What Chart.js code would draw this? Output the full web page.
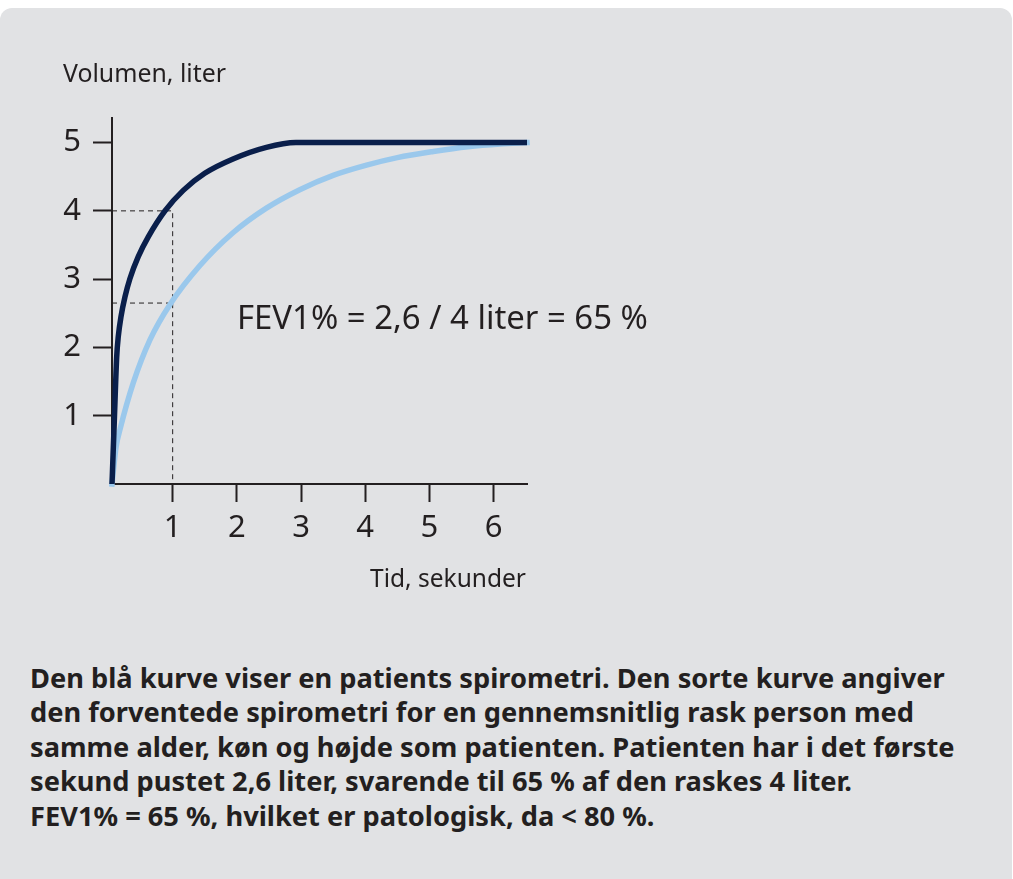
<!DOCTYPE html>
<html>
<head>
<meta charset="utf-8">
<script src="https://cdn.jsdelivr.net/npm/chart.js@4.4.1/dist/chart.umd.min.js"></script>
<style>
  html, body { margin: 0; padding: 0; background: #ffffff; width: 1013px; height: 879px; overflow: hidden; }
  #panel { position: absolute; left: 0; top: 8px; width: 1012px; height: 890px; background: #e1e2e4; border-radius: 12px; }
  #chartWrap { position: absolute; left: 0; top: 0; width: 700px; height: 620px; }
  .txt { position: absolute; color: #231f20; font-family: "Noto Sans", sans-serif; white-space: nowrap; line-height: 1; }
  .fit { display: inline-block; }
  #ytitle { left: 63px; top: 60px; font-size: 22px; }
  #xtitle { left: 370px; top: 566px; font-size: 22px; }
  #annot { left: 237px; top: 301px; font-size: 29px; }
  #caption { left: 30px; top: 664px; font-size: 24px; font-weight: bold; }
  #caption div { height: 34.4px; }
</style>
</head>
<body>
<div id="panel"></div>
<div id="chartWrap"><canvas id="c" width="700" height="620"></canvas></div>
<div class="txt" id="ytitle"><span class="fit" data-w="163">Volumen, liter</span></div>
<div class="txt" id="xtitle"><span class="fit" data-w="156">Tid, sekunder</span></div>
<div class="txt" id="annot"><span class="fit" data-w="411">FEV1% = 2,6 / 4 liter = 65 %</span></div>
<div class="txt" id="caption" data-w="915">
  <div><span class="fitline">Den blå kurve viser en patients spirometri. Den sorte kurve angiver</span></div>
  <div><span>den forventede spirometri for en gennemsnitlig rask person med</span></div>
  <div><span>samme alder, køn og højde som patienten. Patienten har i det første</span></div>
  <div><span>sekund pustet 2,6 liter, svarende til 65 % af den raskes 4 liter.</span></div>
  <div><span>FEV1% = 65 %, hvilket er patologisk, da &lt; 80 %.</span></div>
</div>
<script>
// Time (seconds) and volume (liter)
const expectedTime   = [0.055, 0.09, 0.128, 0.153, 0.195, 0.257, 0.335, 0.464, 0.62, 0.88, 1.165, 1.5, 1.94, 2.46, 2.92, 6.52];
const expectedVolume = [0,     0.9,  1.86,  2.16,  2.45,  2.74,  3.01,  3.33,  3.62, 4.0,  4.30,  4.55, 4.76, 4.93, 5.0, 5.0];
const patientTime    = [0.055, 0.12, 0.18, 0.386, 0.646, 0.958, 1.425, 1.94, 2.46, 2.98, 3.5,  4.02, 4.5,  5.06, 5.6,  6.1,  6.52];
const patientVolume  = [0,     0.55, 0.80, 1.48,  2.11,  2.63,  3.2,   3.68, 4.04, 4.31, 4.52, 4.67, 4.78, 4.87, 4.94, 4.98, 5.0];
const fev1Time = 1;
const fev1Patient = 2.65;
const fev1Expected = 4;
const xTickLabels = [1, 2, 3, 4, 5, 6];
const yTickLabels = [1, 2, 3, 4, 5];
const xMin = 0.055, xMax = 6.52, yMin = 0, yMax = 5.36;

// fit text widths to the reference
document.querySelectorAll('.fit').forEach(el => {
  const target = +el.dataset.w;
  const parent = el.parentElement;
  const fs = parseFloat(getComputedStyle(parent).fontSize);
  const w = el.getBoundingClientRect().width;
  parent.style.fontSize = (fs * target / w).toFixed(2) + 'px';
});
(function () {
  const cap = document.getElementById('caption');
  const line = cap.querySelector('.fitline');
  const fs = parseFloat(getComputedStyle(cap).fontSize);
  const w = line.getBoundingClientRect().width;
  cap.style.fontSize = (fs * (+cap.dataset.w) / w).toFixed(2) + 'px';
})();

const pts = (xs, ys) => xs.map((x, i) => ({ x: x, y: ys[i] }));
const ink = '#231f20';
const font = { family: '"Noto Sans", sans-serif', size: 31 };

new Chart(document.getElementById('c'), {
  type: 'line',
  data: {
    datasets: [
      { data: pts(expectedTime, expectedVolume), borderColor: '#0a1f4b', borderWidth: 5.5, pointRadius: 0,
        cubicInterpolationMode: 'monotone', order: 0, clip: 8, borderCapStyle: 'butt', borderJoinStyle: 'round' },
      { data: pts(patientTime, patientVolume), borderColor: '#9ac8ec', borderWidth: 5.5, pointRadius: 0,
        cubicInterpolationMode: 'monotone', order: 1, clip: 8, borderCapStyle: 'square' },
      { data: [{ x: xMin, y: fev1Expected }, { x: fev1Time, y: fev1Expected }, { x: fev1Time, y: 0 }],
        borderColor: ink, borderWidth: 1, borderDash: [5, 4], pointRadius: 0, tension: 0, order: 2 },
      { data: [{ x: xMin, y: fev1Patient }, { x: fev1Time, y: fev1Patient }],
        borderColor: ink, borderWidth: 1, borderDash: [5, 4], pointRadius: 0, tension: 0, order: 2 }
    ]
  },
  options: {
    responsive: false,
    animation: false,
    events: [],
    layout: { padding: { left: 0, top: 118, right: 173, bottom: 56 } },
    plugins: { legend: { display: false }, tooltip: { enabled: false } },
    scales: {
      x: {
        type: 'linear', min: xMin, max: xMax,
        afterBuildTicks: s => { s.ticks = xTickLabels.map(v => ({ value: v })); },
        afterFit: s => { s.height = 80; },
        grid: { drawOnChartArea: false, drawTicks: true, tickLength: 18, tickWidth: 2, tickColor: ink },
        border: { display: true, color: ink, width: 2 },
        ticks: { color: ink, font: font, padding: 8, maxRotation: 0, autoSkip: false }
      },
      y: {
        type: 'linear', min: yMin, max: yMax,
        afterBuildTicks: s => { s.ticks = yTickLabels.map(v => ({ value: v })); },
        afterFit: s => { s.width = 112; },
        grid: { drawOnChartArea: false, drawTicks: true, tickLength: 19, tickWidth: 2, tickColor: ink },
        border: { display: true, color: ink, width: 2 },
        ticks: { color: ink, font: font, padding: 12, autoSkip: false }
      }
    }
  }
});
</script>
</body>
</html>
